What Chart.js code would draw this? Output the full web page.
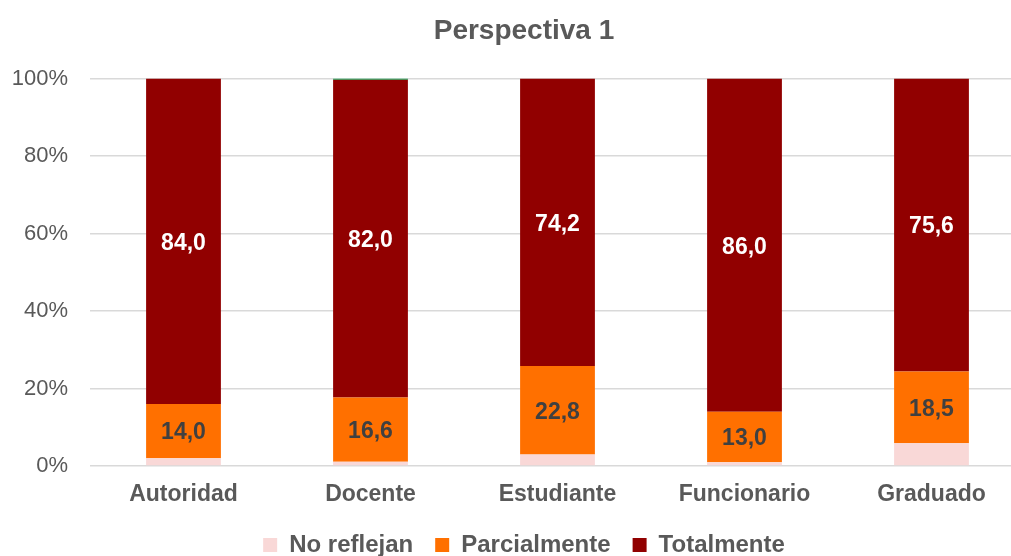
<!DOCTYPE html>
<html>
<head>
<meta charset="utf-8">
<script src="https://cdn.jsdelivr.net/npm/chart.js@4/dist/chart.umd.min.js"></script>
<style>
  html, body { margin: 0; padding: 0; background: #fff; overflow: hidden; }
  #wrap { width: 1060px; height: 556px; position: relative; }
</style>
</head>
<body>
<div id="wrap"><canvas id="myChart"></canvas></div>
<script>
// categories and series (percent)
var categories = ["Autoridad", "Docente", "Estudiante", "Funcionario", "Graduado"];
var noReflejan = [2.0, 1.1, 3.0, 1.0, 5.9];
var parcialmente = [14.0, 16.6, 22.8, 13.0, 18.5];
var totalmente = [84.0, 82.0, 74.2, 86.0, 75.6];
var otro = [0, 0.3, 0, 0, 0];
var yTicks = [0, 20, 40, 60, 80, 100];

Chart.defaults.font.family = "'Liberation Sans', Arial, sans-serif";
Chart.defaults.color = "#595959";

// draws the values inside the bars
var barLabels = {
  id: "barLabels",
  afterDatasetsDraw: function(chart) {
    var ctx = chart.ctx;
    ctx.save();
    ctx.font = "bold 23px 'Liberation Sans', Arial, sans-serif";
    ctx.textAlign = "center";
    ctx.textBaseline = "middle";
    chart.data.datasets.forEach(function(ds, i) {
      if (!ds.labelColor) return;
      var meta = chart.getDatasetMeta(i);
      meta.data.forEach(function(bar, j) {
        var v = ds.data[j];
        var y = (bar.y + bar.base) / 2 + 2;
        ctx.fillStyle = ds.labelColor;
        ctx.fillText(v.toFixed(1).replace(".", ","), bar.x, y);
      });
    });
    ctx.restore();
  }
};

var ctx = document.getElementById("myChart");
var myChart = new Chart(ctx, {
  type: "bar",
  data: {
    labels: categories,
    datasets: [
      { label: "No reflejan", data: noReflejan, backgroundColor: "#F9D8D7" },
      { label: "Parcialmente", data: parcialmente, backgroundColor: "#FF7000", labelColor: "#404040" },
      { label: "Totalmente", data: totalmente, backgroundColor: "#910000", labelColor: "#ffffff" },
      { label: "", data: otro, backgroundColor: "#00B050" }
    ]
  },
  options: {
    responsive: true,
    maintainAspectRatio: false,
    animation: false,
    datasets: { bar: { barPercentage: 0.4, categoryPercentage: 1.0 } },
    layout: { padding: { left: 8, right: 20, top: 0, bottom: -11 } },
    scales: {
      x: {
        stacked: true,
        grid: { display: false, drawTicks: false },
        border: { display: false },
        ticks: { padding: 15, font: { size: 23, weight: "bold" }, color: "#595959" },
        afterFit: function(scale) { scale.height = 45; }
      },
      y: {
        stacked: true,
        min: 0,
        max: 100,
        afterBuildTicks: function(scale) {
          scale.ticks = yTicks.map(function(v) { return { value: v }; });
        },
        grid: { color: "#D9D9D9", lineWidth: 1.5, drawTicks: false },
        border: { display: false },
        ticks: {
          padding: 22,
          font: { size: 22 },
          color: "#595959",
          callback: function(v) { return v + "%"; }
        },
        afterFit: function(scale) { scale.width = 82; }
      },
      // empty spacer on the right
      y2: {
        position: "right",
        grid: { display: false, drawTicks: false },
        border: { display: false },
        ticks: { display: false },
        afterFit: function(scale) { scale.width = 15; }
      }
    },
    plugins: {
      title: {
        display: true,
        text: "Perspectiva 1",
        color: "#595959",
        font: { size: 28, weight: "bold" },
        padding: { top: 14, bottom: 31 }
      },
      legend: {
        position: "bottom",
        labels: {
          boxWidth: 14,
          boxHeight: 14,
          padding: 22,
          color: "#595959",
          font: { size: 24, weight: "bold" },
          filter: function(item) { return item.text !== ""; }
        }
      },
      tooltip: { enabled: false }
    }
  },
  plugins: [barLabels]
});
</script>
</body>
</html>
